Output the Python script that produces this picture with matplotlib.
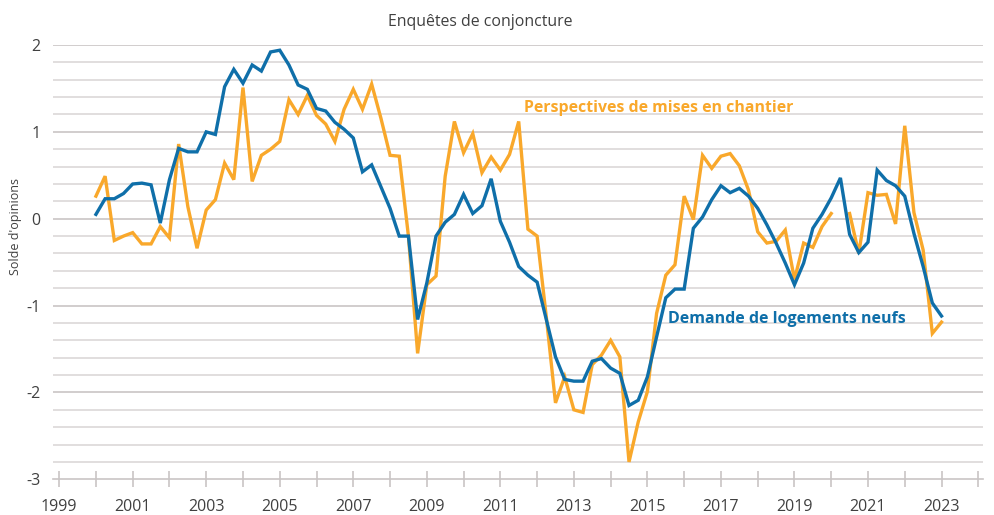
import numpy as np
import matplotlib
matplotlib.use('Agg')
import matplotlib.pyplot as plt

# Quarterly values, 2000 Q1 to 2023 Q1
demande = [0.05, 0.23, 0.23, 0.29,
           0.40, 0.41, 0.39, -0.05,
           0.45, 0.81, 0.77, 0.77,
           1.00, 0.97, 1.52, 1.72,
           1.56, 1.77, 1.70, 1.92,
           1.94, 1.77, 1.54, 1.49,
           1.27, 1.24, 1.11, 1.03,
           0.93, 0.54, 0.62, 0.37,
           0.12, -0.20, -0.20, -1.16,
           -0.74, -0.20, -0.04, 0.05,
           0.28, 0.06, 0.15, 0.46,
           -0.03, -0.27, -0.55, -0.65,
           -0.73, -1.16, -1.59, -1.85,
           -1.87, -1.87, -1.64, -1.61,
           -1.72, -1.78, -2.15, -2.09,
           -1.82, -1.36, -0.91, -0.81,
           -0.81, -0.11, 0.02, 0.22,
           0.38, 0.30, 0.35, 0.26,
           0.12, -0.07, -0.28, -0.51,
           -0.76, -0.51, -0.11, 0.05,
           0.24, 0.47, -0.18, -0.39,
           -0.27, 0.56, 0.44, 0.38,
           0.26, -0.17, -0.55, -0.97,
           -1.12]

perspectives = [0.26, 0.49, -0.25, -0.20,
                -0.16, -0.29, -0.29, -0.09,
                -0.22, 0.86, 0.14, -0.34,
                0.10, 0.22, 0.64, 0.45,
                1.51, 0.43, 0.73, 0.80,
                0.89, 1.37, 1.20, 1.42,
                1.19, 1.09, 0.89, 1.26,
                1.49, 1.26, 1.55, 1.16,
                0.73, 0.72, -0.20, -1.55,
                -0.76, -0.66, 0.49, 1.12,
                0.76, 0.98, 0.53, 0.71,
                0.56, 0.74, 1.12, -0.12,
                -0.20, -1.13, -2.12, -1.82,
                -2.20, -2.23, -1.68, -1.57,
                -1.40, -1.59, -2.80, -2.34,
                -1.99, -1.09, -0.65, -0.53,
                0.26, -0.01, 0.73, 0.58,
                0.72, 0.75, 0.61, 0.33,
                -0.15, -0.28, -0.26, -0.13,
                -0.70, -0.28, -0.33, -0.09,
                0.06, np.nan, 0.06, -0.40,
                0.30, 0.27, 0.28, -0.06,
                1.07, 0.07, -0.36, -1.32,
                -1.19]

dates = 2000 + np.arange(len(demande)) / 4
years = list(range(1999, 2025))
year_labels = [str(y) if y % 2 == 1 else '' for y in years]

blue = '#0f6fa9'
orange = '#f9a82b'

plt.rcParams['font.family'] = ['Open Sans', 'DejaVu Sans']

fig = plt.figure(figsize=(9.94, 5.15), dpi=100)
ax = fig.add_axes([0.0536, 0.0693, 0.9354, 0.8433])

# horizontal grid every 0.2, integers slightly darker
for v in np.arange(-3, 2.01, 0.2):
    v = round(v, 1)
    if v == -3:
        continue
    col = '#c9c5c5' if abs(v - round(v)) < 1e-6 else '#dcd8d8'
    ax.axhline(v, color=col, lw=1.2, zorder=0)

ax.plot(dates, demande, color=blue, lw=2.4, solid_joinstyle='miter', zorder=3)
ax.plot(dates, perspectives, color=orange, lw=2.4, solid_joinstyle='miter', zorder=2)

ax.set_xlim(1998.84, 2024.13)
ax.set_ylim(-3, 2)
ax.set_yticks([-3, -2, -1, 0, 1, 2])
ax.set_yticklabels(['-3', '-2', '-1', '0', '1', '2'])
ax.set_xticks(years)
ax.set_xticklabels(year_labels)

for s in ['top', 'right', 'left']:
    ax.spines[s].set_visible(False)
ax.spines['bottom'].set_color('#c9c5c5')
ax.spines['bottom'].set_linewidth(1.2)
ax.tick_params(axis='x', direction='inout', length=11, width=1.2, color='#c9c5c5',
               labelsize=11.5, labelcolor='#404040', pad=9)
ax.tick_params(axis='y', length=0, labelsize=11.5, labelcolor='#404040', pad=9)

fig.text(0.483, 0.958, 'Enquêtes de conjoncture', ha='center', va='center',
         fontsize=11.4, color='#404040')
fig.text(0.016, 0.56, "Solde d'opinions", rotation=90, ha='center', va='center',
         fontsize=9, color='#404040')

ax.text(2011.64, 1.28, 'Perspectives de mises en chantier', color=orange,
        fontsize=11.4, fontweight='bold', ha='left', va='center')
ax.text(2015.55, -1.16, 'Demande de logements neufs', color=blue,
        fontsize=11.5, fontweight='bold', ha='left', va='center')

fig.savefig('out.png', dpi=100)
